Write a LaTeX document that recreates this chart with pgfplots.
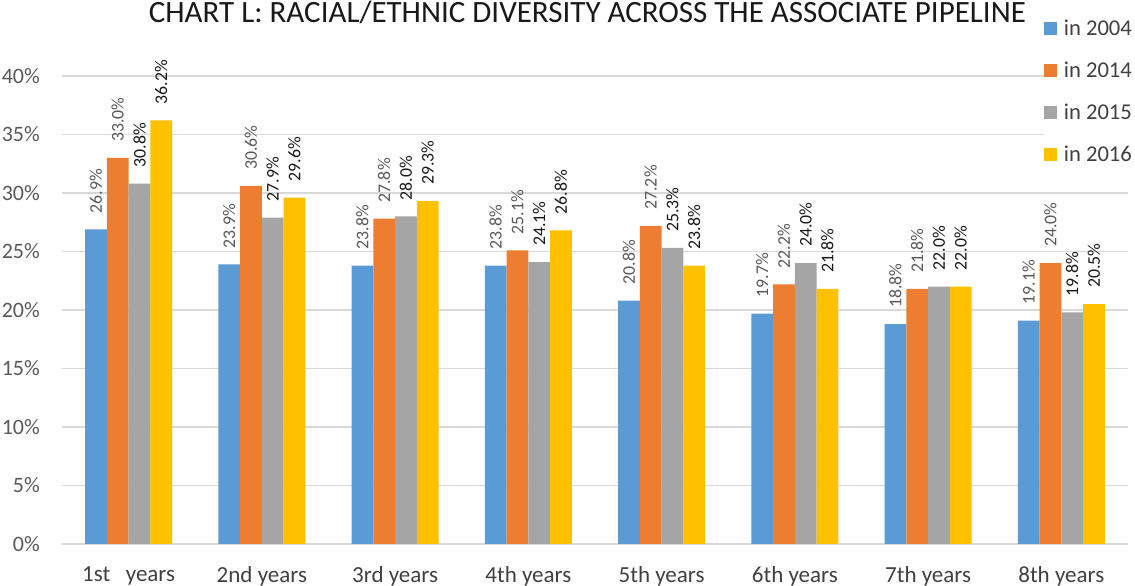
\documentclass[border=0pt]{standalone}
\usepackage{fontspec}
\setmainfont{Carlito}
\usepackage{pgfplots}
\pgfplotsset{compat=1.18}

\definecolor{c04}{HTML}{5B9BD5}
\definecolor{c14}{HTML}{ED7D31}
\definecolor{c15}{HTML}{A5A5A5}
\definecolor{c16}{HTML}{FFC000}
\definecolor{gridgray}{HTML}{D9D9D9}
\definecolor{ticktext}{HTML}{595959}
\definecolor{labtext}{HTML}{404040}

% share of associates by class year (percent)
\pgfplotstableread{
x  y04   y14   y15   y16
0  26.9  33.0  30.8  36.2
1  23.9  30.6  27.9  29.6
2  23.8  27.8  28.0  29.3
3  23.8  25.1  24.1  26.8
4  20.8  27.2  25.3  23.8
5  19.7  22.2  24.0  21.8
6  18.8  21.8  22.0  22.0
7  19.1  24.0  19.8  20.5
}\pipeline

\begin{document}
\begin{tikzpicture}[x=1pt,y=1pt]
\useasboundingbox (0,0) rectangle (1135,586);
\begin{axis}[
  at={(62pt,42pt)}, anchor=south west,
  scale only axis, width=1066pt, height=468pt,
  xmin=-0.5, xmax=7.5, ymin=0, ymax=40,
  clip=false,
  /pgf/number format/assume math mode=true,
  ybar=0pt, bar width=21.75pt,
  axis line style={draw=none},
  tick style={draw=none},
  major tick length=0pt,
  ymajorgrids,
  grid style={color=gridgray, line width=1.3pt},
  ytick={0,5,...,40},
  yticklabel={\pgfmathprintnumber{\tick}\%},
  yticklabel style={font=\fontsize{22}{26}\selectfont, color=ticktext, anchor=east, inner sep=0pt, xshift=-22pt},
  xtick={0,...,7},
  xticklabels={1st\ \ \ years, 2nd years, 3rd years, 4th years, 5th years, 6th years, 7th years, 8th years},
  xticklabel style={font=\fontsize{23}{27}\selectfont, color=labtext, anchor=north, inner sep=0pt, yshift=-22pt},
  title={CHART L: RACIAL/ETHNIC DIVERSITY ACROSS THE ASSOCIATE PIPELINE},
  title style={at={(0.493,1)}, anchor=base, inner sep=0pt, yshift=47pt, font=\fontsize{31}{36}\selectfont, color=black!90},
  nodes near coords={\pgfmathprintnumber[fixed,fixed zerofill,precision=1]{\pgfplotspointmeta}\%},
  every node near coord/.append style={rotate=90, anchor=west, inner xsep=16pt, inner ysep=0pt, font=\fontsize{17.8}{20}\selectfont},
  legend style={at={(0.921,1.124)}, anchor=north west, draw=none, fill=white, inner sep=0pt,
    font=\fontsize{22.6}{26}\selectfont, text=labtext, row sep=21pt,
    /tikz/every odd column/.append style={column sep=5pt}},
  legend cell align=left,
  legend image code/.code={\fill[#1] (0pt,-6.5pt) rectangle (13pt,6.5pt);},
]
\addplot[fill=c04, draw=none, every node near coord/.append style={color=ticktext}] table[x=x, y=y04] {\pipeline};
\addplot[fill=c14, draw=none, every node near coord/.append style={color=ticktext}] table[x=x, y=y14] {\pipeline};
\addplot[fill=c15, draw=none, every node near coord/.append style={color=black!90}] table[x=x, y=y15] {\pipeline};
\addplot[fill=c16, draw=none, every node near coord/.append style={color=black!90}] table[x=x, y=y16] {\pipeline};
\legend{in 2004, in 2014, in 2015, in 2016}
\end{axis}
\end{tikzpicture}
\end{document}
